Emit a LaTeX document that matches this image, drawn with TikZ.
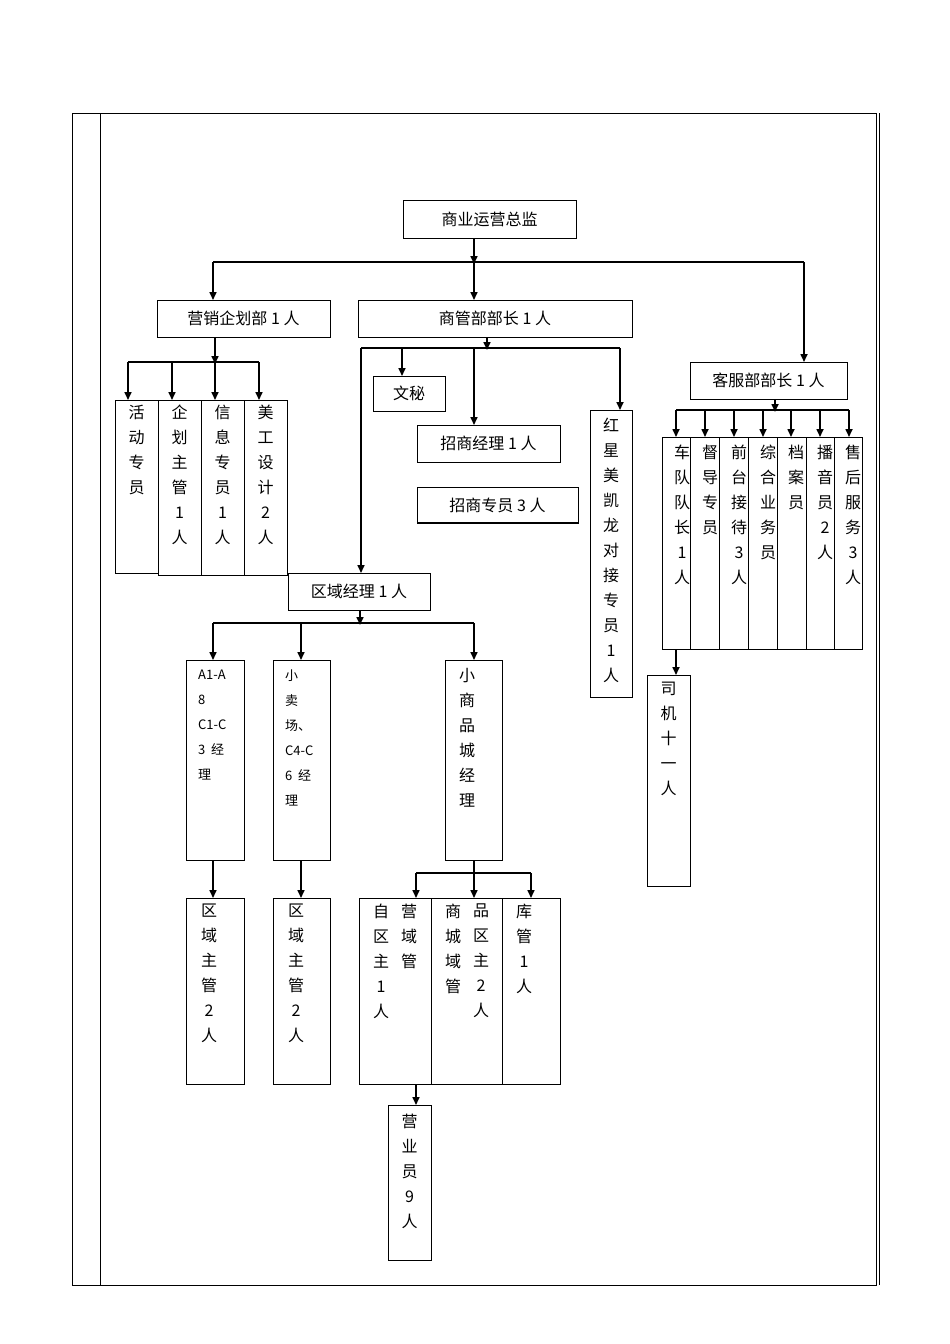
\documentclass[tikz,border=0pt]{standalone}
\usepackage{fontspec}
\setmainfont{Noto Sans CJK SC}
\usetikzlibrary{arrows.meta}
\begin{document}
\begin{tikzpicture}[x=1pt,y=-1pt,
  bx/.style={draw,line width=1pt},
  ar/.style={-{Triangle[length=8pt,width=7pt]},line width=1.6pt},
  ln/.style={line width=1.6pt},
  tx/.style={font=\fontsize{16}{20}\selectfont,inner sep=0pt},
  vt/.style={font=\fontsize{16}{25}\selectfont,inner sep=0pt,align=center,anchor=north},
  vs/.style={font=\fontsize{13}{25}\selectfont,inner sep=0pt,align=left,anchor=north west}]
\useasboundingbox (0,0) rectangle (950,1344);
\draw[line width=0.8pt] (72,113) rectangle (876,1285);
\draw[line width=0.8pt] (100,113) -- (100,1285);
\draw[line width=0.6pt] (879,113) -- (879,1285);
% top
\draw[bx] (403,200) rectangle (576,238); \node[tx] (top) at (489.5,219) {商业运营总监};
\draw[ln] (213,262) -- (804,262);
\draw[ar] (474,238) -- (474,264);
\draw[ar] (213,262) -- (213,300);
\draw[ar] (474,262) -- (474,300);
\draw[ar] (804,262) -- (804,362);
\draw[bx] (157,300) rectangle (330,337); \node[tx] (yx) at (243.5,318.5) {营销企划部 1 人};
\draw[bx] (358,300) rectangle (632,337); \node[tx] (sg) at (495,318.5) {商管部部长 1 人};
\draw[bx] (690,362) rectangle (847,399); \node[tx] (kf) at (768.5,380.5) {客服部部长 1 人};
% marketing
\draw[ar] (215,337) -- (215,364);
\draw[ln] (128,362) -- (259,362);
\foreach \x in {128,172,215,259} \draw[ar] (\x,362) -- (\x,400);
\draw[bx] (115,400) rectangle (158,573);
\draw[bx] (158,400) rectangle (201,575);
\draw[bx] (201,400) rectangle (244,575);
\draw[bx] (244,400) rectangle (287,575);
\node[vt] at (136.5,405) {活\\动\\专\\员};
\node[vt] at (179.5,405) {企\\划\\主\\管\\1\\人};
\node[vt] at (222.5,405) {信\\息\\专\\员\\1\\人};
\node[vt] at (265.5,405) {美\\工\\设\\计\\2\\人};
% shangguan
\draw[ar] (487,337) -- (487,350);
\draw[ln] (361,348) -- (620,348);
\draw[ar] (402,348) -- (402,376);
\draw[ar] (474,348) -- (474,425);
\draw[ar] (620,348) -- (620,410);
\draw[ar] (361,348) -- (361,573);
\draw[bx] (373,376) rectangle (445,411); \node[tx] at (409,393.5) {文秘};
\draw[bx] (417,425) rectangle (560,462); \node[tx] at (488.5,443.5) {招商经理 1 人};
\draw[bx] (417,487) rectangle (578,523); \draw[line width=1.6pt] (417,523) -- (578,523); \node[tx] at (497.5,505) {招商专员 3 人};
\draw[bx] (590,410) rectangle (632,697);
\node[vt] at (611,418) {红\\星\\美\\凯\\龙\\对\\接\\专\\员\\1\\人};
% quyu
\draw[bx] (288,573) rectangle (430,610); \node[tx] at (359,591.5) {区域经理 1 人};
\draw[ar] (360,610) -- (360,625);
\draw[ln] (213,623) -- (474,623);
\foreach \x in {213,301,474} \draw[ar] (\x,623) -- (\x,660);
\draw[bx] (186,660) rectangle (244,860);
\draw[bx] (273,660) rectangle (330,860);
\draw[bx] (445,660) rectangle (502,860);
\node[vs] at (198,670) {A1-A\\8\\C1-C\\3\ \ 经\\理};
\node[vs] at (285,670) {小\\卖\\场、\\C4-C\\6\ \ 经\\理};
\node[vt] at (467,668) {小\\商\\品\\城\\经\\理};
\draw[ar] (213,860) -- (213,898);
\draw[ar] (301,860) -- (301,898);
\draw[bx] (186,898) rectangle (244,1084); \node[vt] at (209,904) {区\\域\\主\\管\\2\\人};
\draw[bx] (273,898) rectangle (330,1084); \node[vt] at (296,904) {区\\域\\主\\管\\2\\人};
\draw[ar] (474,860) -- (474,898);
\draw[ln] (416,873) -- (531,873);
\draw[ar] (416,873) -- (416,898);
\draw[ar] (531,873) -- (531,898);
\draw[bx] (359,898) rectangle (431,1084);
\draw[bx] (431,898) rectangle (502,1084);
\draw[bx] (502,898) rectangle (560,1084);
\node[vt] at (381,904) {自\\区\\主\\1\\人};
\node[vt] at (409,904) {营\\域\\管};
\node[vt] at (453,904) {商\\城\\域\\管};
\node[vt] at (481,904) {品\\区\\主\\2\\人};
\node[vt] at (524,904) {库\\管\\1\\人};
\draw[ar] (416,1084) -- (416,1105);
\draw[bx] (388,1105) rectangle (431,1260); \node[vt] at (409.5,1114) {营\\业\\员\\9\\人};
% kefu
\draw[ar] (775,399) -- (775,412);
\draw[ln] (676,410) -- (849,410);
\foreach \x in {676,705,734,763,791,820,849} \draw[ar] (\x,410) -- (\x,437);
\foreach \a/\b in {662/690,690/719,719/748,748/777,777/806,806/834,834/862} \draw[bx] (\a,437) rectangle (\b,649);
\node[vt] at (682,445) {车\\队\\队\\长\\1\\人};
\node[vt] at (710,445) {督\\导\\专\\员};
\node[vt] at (739,445) {前\\台\\接\\待\\3\\人};
\node[vt] at (768,445) {综\\合\\业\\务\\员};
\node[vt] at (796,445) {档\\案\\员};
\node[vt] at (825,445) {播\\音\\员\\2\\人};
\node[vt] at (853,445) {售\\后\\服\\务\\3\\人};
\draw[ar] (676,649) -- (676,675);
\draw[bx] (647,675) rectangle (690,886); \node[vt] at (668.5,682) {司\\机\\十\\一\\人};
\end{tikzpicture}
\end{document}
